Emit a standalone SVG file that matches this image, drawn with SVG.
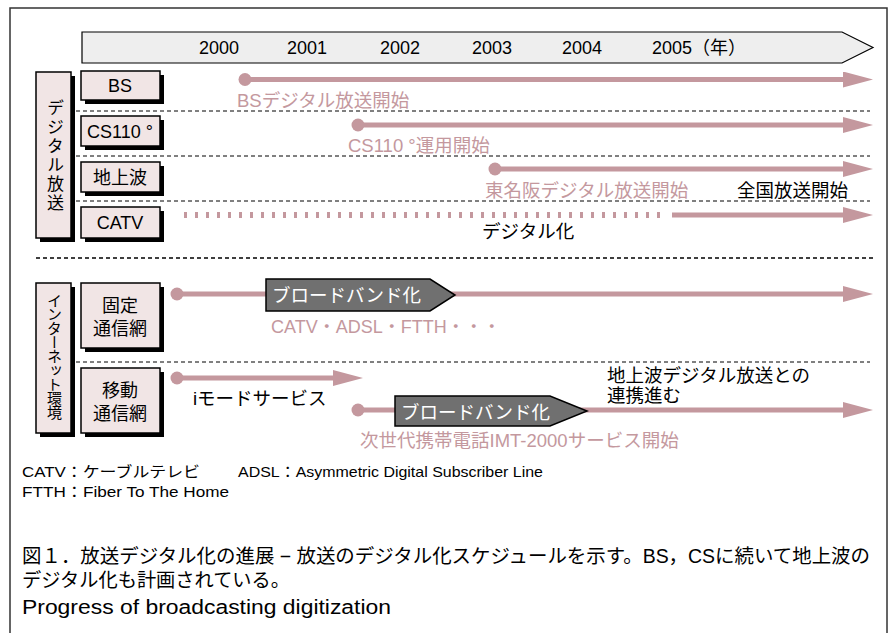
<svg xmlns="http://www.w3.org/2000/svg" width="892" height="633" viewBox="0 0 892 633">
<style>
text{font-family:"Liberation Sans","Noto Sans CJK JP",sans-serif;}
.box{fill:#f1e5e5;stroke:#000;stroke-width:1.5;}
.sh{fill:#000;}
.lbl{font-size:18px;fill:#000;text-anchor:middle;}
.yr{font-size:18px;fill:#000;text-anchor:middle;}
.pk{font-size:18.5px;fill:#c4989e;}
.bk{font-size:18.5px;fill:#000;}
.vt{font-size:17px;fill:#000;writing-mode:vertical-rl;text-anchor:middle;}
.sep{stroke:#000;stroke-width:1;stroke-dasharray:4 3;}
.ln{stroke:#c4989e;stroke-width:5;fill:none;}
.dot{fill:#c4989e;}
.ban{fill:#707070;stroke:#000;stroke-width:1.5;}
.bt{font-size:18.5px;fill:#fff;}
.ft{font-size:15px;fill:#000;}
.cap{font-size:19.5px;fill:#000;}
</style>
<defs>
<marker id="ah" markerWidth="6" markerHeight="3.2" refX="0" refY="1.6" orient="auto" markerUnits="strokeWidth">
<path d="M0,0 L6,1.6 L0,3.2 Z" fill="#c4989e"/>
</marker>
</defs>
<rect x="10" y="8" width="877" height="640" fill="#fff" stroke="#333" stroke-width="1.5"/>

<g id="timeline">
<path d="M82,32 L842,32 L873,47.5 L842,63 L82,63 Z" fill="#eeeeee" stroke="#000" stroke-width="1.2"/>
<text class="yr" x="219" y="54">2000</text>
<text class="yr" x="307" y="54">2001</text>
<text class="yr" x="400" y="54">2002</text>
<text class="yr" x="492" y="54">2003</text>
<text class="yr" x="582" y="54">2004</text>
<text class="bk" x="652" y="54" style="font-size:18px">2005（年）</text>
</g>

<g id="cat-digital">
<rect class="sh" x="40" y="76" width="35" height="166"/>
<rect class="box" x="36" y="72" width="35" height="166"/>
<text class="vt" x="53.5" y="156" letter-spacing="2">デジタル放送</text>
</g>
<g id="cat-internet">
<rect class="sh" x="40" y="287" width="35" height="150"/>
<rect class="box" x="36" y="283" width="35" height="150"/>
<text class="vt" x="53.5" y="356" style="font-size:15px" letter-spacing="-1">インターネット環境</text>
</g>

<g id="bs">
<rect class="sh" x="85" y="75" width="79" height="29"/>
<rect class="box" x="81" y="71" width="79" height="29"/>
<text class="lbl" x="120" y="92">BS</text>
</g>
<g id="cs">
<rect class="sh" x="85" y="120" width="79" height="30"/>
<rect class="box" x="81" y="116" width="79" height="30"/>
<text class="lbl" x="120" y="138">CS110 °</text>
</g>
<g id="chijou">
<rect class="sh" x="85" y="166" width="79" height="30"/>
<rect class="box" x="81" y="162" width="79" height="30"/>
<text class="lbl" x="120" y="184">地上波</text>
</g>
<g id="catv">
<rect class="sh" x="85" y="211" width="79" height="31"/>
<rect class="box" x="81" y="207" width="79" height="31"/>
<text class="lbl" x="120" y="229">CATV</text>
</g>
<g id="kotei">
<rect class="sh" x="85" y="287" width="79" height="65"/>
<rect class="box" x="81" y="283" width="79" height="65"/>
<text class="lbl" x="120" y="312">固定</text>
<text class="lbl" x="120" y="335">通信網</text>
</g>
<g id="idou">
<rect class="sh" x="85" y="372" width="79" height="65"/>
<rect class="box" x="81" y="368" width="79" height="65"/>
<text class="lbl" x="120" y="397">移動</text>
<text class="lbl" x="120" y="420">通信網</text>
</g>

<g id="connectors">
<line class="sep" x1="76" y1="111" x2="870" y2="111"/>
<line class="sep" x1="76" y1="156" x2="870" y2="156"/>
<line class="sep" x1="76" y1="201" x2="870" y2="201"/>
<line x1="36" y1="258" x2="873" y2="258" stroke="#000" stroke-width="1.5" stroke-dasharray="4 3"/>
<line class="sep" x1="76" y1="362" x2="870" y2="362"/>

<circle class="dot" cx="245" cy="79.5" r="6.5"/>
<line class="ln" x1="245" y1="79.5" x2="843" y2="79.5" marker-end="url(#ah)"/>
<circle class="dot" cx="358" cy="125" r="6.5"/>
<line class="ln" x1="358" y1="125" x2="843" y2="125" marker-end="url(#ah)"/>
<circle class="dot" cx="495" cy="169" r="6.5"/>
<line class="ln" x1="495" y1="169" x2="843" y2="169" marker-end="url(#ah)"/>
<line x1="184" y1="215" x2="666" y2="215" stroke="#c4989e" stroke-width="6" stroke-dasharray="3 8"/>
<line class="ln" x1="672" y1="215" x2="843" y2="215" marker-end="url(#ah)"/>

<circle class="dot" cx="177" cy="294" r="6.5"/>
<line class="ln" x1="177" y1="294" x2="843" y2="294" marker-end="url(#ah)"/>
<circle class="dot" cx="177" cy="378" r="6.5"/>
<line class="ln" x1="177" y1="378" x2="333" y2="378" marker-end="url(#ah)"/>
<circle class="dot" cx="358" cy="410" r="6.5"/>
<line class="ln" x1="358" y1="410" x2="843" y2="410" marker-end="url(#ah)"/>
</g>

<g id="banner1">
<path class="ban" d="M266,279 L430,279 L455,295 L430,311 L266,311 Z"/>
<text class="bt" x="272" y="302">ブロードバンド化</text>
</g>
<g id="banner2">
<path class="ban" d="M395,396 L550,396 L587,411 L550,426 L395,426 Z"/>
<text class="bt" x="401" y="419">ブロードバンド化</text>
</g>

<g id="labels">
<text class="pk" x="237" y="107">BSデジタル放送開始</text>
<text class="pk" x="348" y="152">CS110 °運用開始</text>
<text class="pk" x="485" y="197">東名阪デジタル放送開始</text>
<text class="bk" x="737" y="197">全国放送開始</text>
<text class="bk" x="482" y="238">デジタル化</text>
<text class="pk" x="271" y="333" style="font-size:18px">CATV・ADSL・FTTH・・・</text>
<text class="bk" x="193" y="405">iモードサービス</text>
<text class="bk" x="607" y="382">地上波デジタル放送との</text>
<text class="bk" x="607" y="402">連携進む</text>
<text class="pk" x="360" y="447">次世代携帯電話IMT-2000サービス開始</text>
</g>

<g id="footer">
<text class="ft" x="22" y="477" textLength="178" lengthAdjust="spacingAndGlyphs">CATV：ケーブルテレビ</text>
<text class="ft" x="238" y="477" textLength="305" lengthAdjust="spacingAndGlyphs">ADSL：Asymmetric Digital Subscriber Line</text>
<text class="ft" x="22" y="497" textLength="207" lengthAdjust="spacingAndGlyphs">FTTH：Fiber To The Home</text>
<text class="cap" x="22" y="563" textLength="848" lengthAdjust="spacingAndGlyphs">図１．放送デジタル化の進展 − 放送のデジタル化スケジュールを示す。BS，CSに続いて地上波の</text>
<text class="cap" x="22" y="587" textLength="268" lengthAdjust="spacingAndGlyphs">デジタル化も計画されている。</text>
<text class="cap" x="22" y="614" textLength="369" lengthAdjust="spacingAndGlyphs">Progress of broadcasting digitization</text>
</g>
</svg>
